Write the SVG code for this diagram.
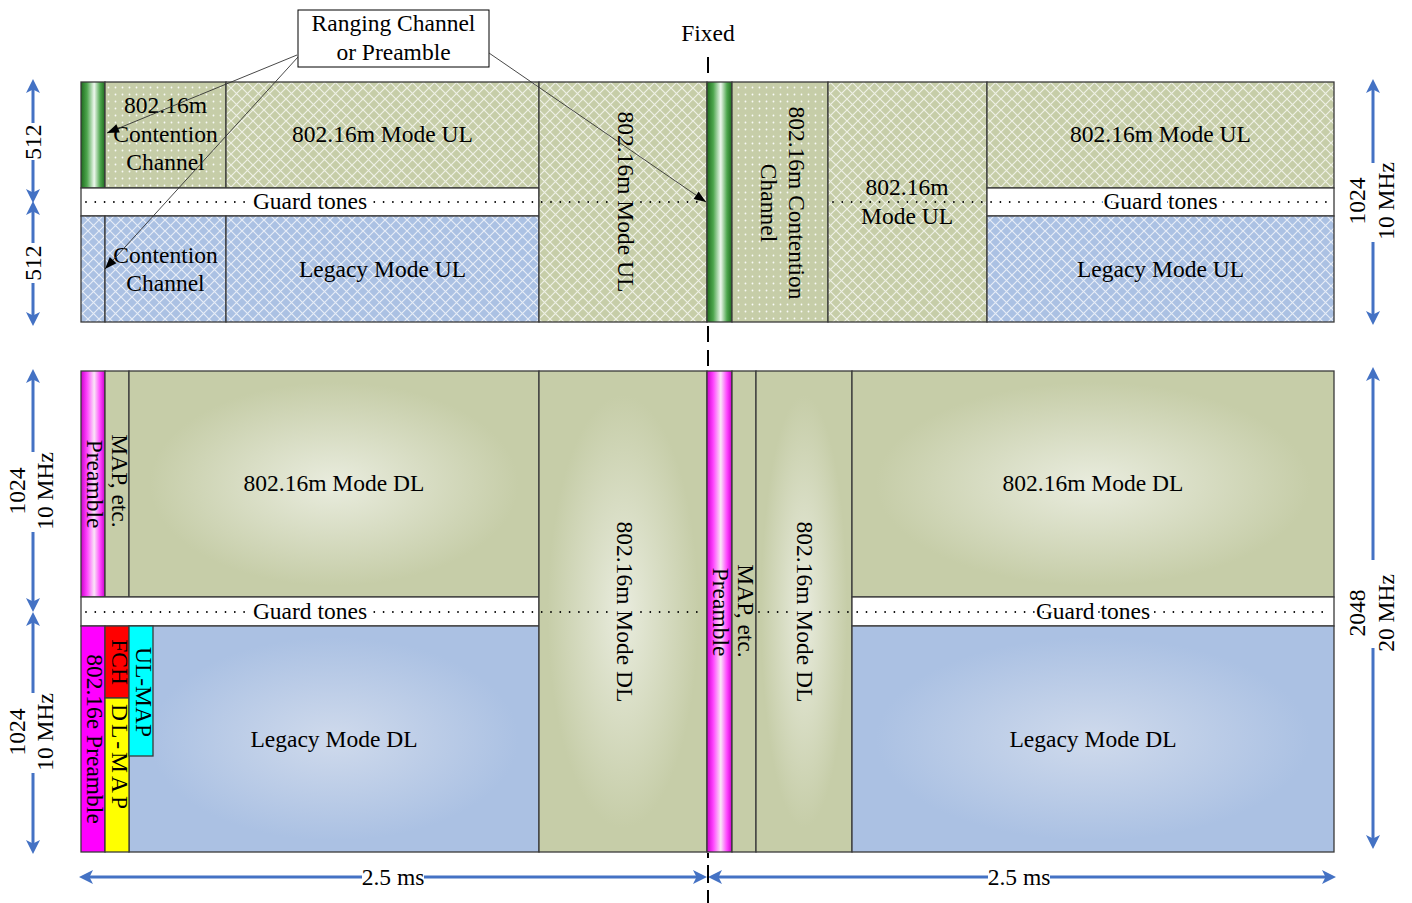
<svg xmlns="http://www.w3.org/2000/svg" width="1412" height="903" viewBox="0 0 1412 903">
<style>
.t{font-family:"Liberation Serif","Times New Roman",serif;font-size:23.5px;fill:#000;text-anchor:middle}
.g{stroke:#fff;stroke-width:4px;paint-order:stroke;stroke-linejoin:round}
.b{stroke:#3a3a3a;stroke-width:1.3}
.dot{stroke:#000;stroke-width:1.8;stroke-linecap:round;stroke-dasharray:0 9.3;fill:none}
.blue{stroke:#4472c4;stroke-width:3;fill:none;marker-start:url(#bh);marker-end:url(#bh)}
.conn{stroke:#333;stroke-width:0.9;fill:none;marker-end:url(#ah)}
</style>
<defs>
<pattern id="hatchG" width="11" height="11" patternUnits="userSpaceOnUse">
<rect width="11" height="11" fill="#c6cda8"/>
<path d="M0,0 L11,11 M11,0 L0,11" stroke="#fff" stroke-opacity="0.7" stroke-width="1.2"/>
</pattern>
<pattern id="hatchB" width="11" height="11" patternUnits="userSpaceOnUse">
<rect width="11" height="11" fill="#abc1e3"/>
<path d="M0,0 L11,11 M11,0 L0,11" stroke="#fff" stroke-opacity="0.7" stroke-width="1.2"/>
</pattern>
<pattern id="dotG" width="7" height="7" patternUnits="userSpaceOnUse">
<rect width="7" height="7" fill="#c6cda8"/>
<circle cx="3.5" cy="3.5" r="0.9" fill="#fff" fill-opacity="0.9"/>
</pattern>
<linearGradient id="greenBar" x1="0" x2="1" y1="0" y2="0">
<stop offset="0" stop-color="#1e6b1e"/><stop offset="0.25" stop-color="#4da64d"/><stop offset="0.55" stop-color="#eef8ee"/><stop offset="0.8" stop-color="#4da64d"/><stop offset="1" stop-color="#1e6b1e"/>
</linearGradient>
<linearGradient id="magBar" x1="0" x2="1" y1="0" y2="0">
<stop offset="0" stop-color="#cc00cc"/><stop offset="0.25" stop-color="#ff44ff"/><stop offset="0.55" stop-color="#f9e6f6"/><stop offset="0.8" stop-color="#ff44ff"/><stop offset="1" stop-color="#cc00cc"/>
</linearGradient>
<radialGradient id="radG"><stop offset="0" stop-color="#e9ecde"/><stop offset="0.9" stop-color="#c6cda8"/></radialGradient>
<radialGradient id="radB"><stop offset="0" stop-color="#cfdaec"/><stop offset="0.9" stop-color="#abc1e3"/></radialGradient>
<marker id="bh" markerUnits="userSpaceOnUse" markerWidth="22" markerHeight="18" refX="10" refY="9" orient="auto-start-reverse" overflow="visible">
<path d="M16,9 L2,2 L5.5,9 L2,16 Z" fill="#4472c4"/>
</marker>
<marker id="ah" markerUnits="userSpaceOnUse" markerWidth="14" markerHeight="10" refX="12" refY="4.5" orient="auto" overflow="visible">
<path d="M0,0 L12,4.5 L0,9 Z" fill="#000"/>
</marker>
</defs>
<rect width="1412" height="903" fill="#fff"/>

<!-- Top (UL) panel -->
<g id="ul-ranging-left"><rect class="b" x="81" y="82" width="24" height="106" fill="url(#greenBar)"/></g>
<g id="ul-contention-m"><rect class="b" x="105" y="82" width="121" height="106" fill="url(#dotG)"/>
<text class="t" x="165.5" y="113">802.16m</text><text class="t" x="165.5" y="142">Contention</text><text class="t" x="165.5" y="170">Channel</text></g>
<g id="ul-mode-m-left"><rect class="b" x="226" y="82" width="313" height="106" fill="url(#hatchG)"/>
<text class="t" x="382.5" y="142">802.16m Mode UL</text></g>
<g id="guard-ul-left"><rect class="b" x="81" y="188" width="458" height="28" fill="#fff"/></g>
<g id="ul-legacy-edge"><rect class="b" x="81" y="216" width="24" height="106" fill="url(#hatchB)"/></g>
<g id="ul-contention-legacy"><rect class="b" x="105" y="216" width="121" height="106" fill="url(#hatchB)"/>
<text class="t" x="165.5" y="263">Contention</text><text class="t" x="165.5" y="291">Channel</text></g>
<g id="ul-legacy-left"><rect class="b" x="226" y="216" width="313" height="106" fill="url(#hatchB)"/>
<text class="t" x="382.5" y="277">Legacy Mode UL</text></g>
<g id="ul-mode-m-center"><rect class="b" x="539" y="82" width="168" height="240" fill="url(#hatchG)"/>
<text class="t" transform="translate(618,202) rotate(90)">802.16m Mode UL</text></g>
<g id="ul-ranging-center"><rect class="b" x="707" y="82" width="25" height="240" fill="url(#greenBar)"/></g>
<g id="ul-contention-center"><rect class="b" x="732" y="82" width="96" height="240" fill="url(#dotG)"/>
<text class="t" transform="translate(789,203) rotate(90)">802.16m Contention</text>
<text class="t" transform="translate(761,203) rotate(90)">Channel</text></g>
<g id="ul-mode-m-center2"><rect class="b" x="828" y="82" width="159" height="240" fill="url(#hatchG)"/></g>
<g id="ul-mode-m-right"><rect class="b" x="987" y="82" width="347" height="106" fill="url(#hatchG)"/>
<text class="t" x="1160.5" y="142">802.16m Mode UL</text></g>
<g id="guard-ul-right"><rect class="b" x="987" y="188" width="347" height="28" fill="#fff"/></g>
<g id="ul-legacy-right"><rect class="b" x="987" y="216" width="347" height="106" fill="url(#hatchB)"/>
<text class="t" x="1160.5" y="277">Legacy Mode UL</text></g>

<!-- Bottom (DL) panel -->
<g id="dl-preamble-left"><rect class="b" x="81" y="371" width="24" height="226" fill="url(#magBar)"/></g>
<g id="dl-map-left"><rect class="b" x="105" y="371" width="24" height="226" fill="#c6cda8"/></g>
<g id="dl-mode-m-left"><rect class="b" x="129" y="371" width="410" height="226" fill="url(#radG)"/>
<text class="t" x="334" y="491">802.16m Mode DL</text></g>
<g id="guard-dl-left"><rect class="b" x="81" y="597" width="458" height="29" fill="#fff"/></g>
<g id="dl-legacy-left"><rect class="b" x="129" y="626" width="410" height="226" fill="url(#radB)"/>
<text class="t" x="334" y="747">Legacy Mode DL</text></g>
<g id="dl-16e-preamble"><rect class="b" x="81" y="626" width="24" height="226" fill="#ff00ff"/></g>
<g id="dl-fch"><rect class="b" x="105" y="626" width="24" height="72" fill="#ff0000"/></g>
<g id="dl-dlmap"><rect class="b" x="105" y="698" width="24" height="154" fill="#ffff00"/></g>
<g id="dl-ulmap"><rect class="b" x="129" y="626" width="24" height="130" fill="#00ffff"/></g>
<g id="dl-mode-m-center"><rect class="b" x="539" y="371" width="168" height="481" fill="url(#radG)"/>
<text class="t" transform="translate(617,612) rotate(90)">802.16m Mode DL</text></g>
<g id="dl-preamble-center"><rect class="b" x="707" y="371" width="25" height="481" fill="url(#magBar)"/></g>
<g id="dl-map-center"><rect class="b" x="732" y="371" width="24" height="481" fill="#c6cda8"/></g>
<g id="dl-mode-m-center2"><rect class="b" x="756" y="371" width="96" height="481" fill="url(#radG)"/>
<text class="t" transform="translate(797,612) rotate(90)">802.16m Mode DL</text></g>
<g id="dl-mode-m-right"><rect class="b" x="852" y="371" width="482" height="226" fill="url(#radG)"/>
<text class="t" x="1093" y="491">802.16m Mode DL</text></g>
<g id="guard-dl-right"><rect class="b" x="852" y="597" width="482" height="29" fill="#fff"/></g>
<g id="dl-legacy-right"><rect class="b" x="852" y="626" width="482" height="226" fill="url(#radB)"/>
<text class="t" x="1093" y="747">Legacy Mode DL</text></g>

<!-- dotted guard lines -->
<g id="guard-dots">
<path class="dot" d="M86,202 H611 M641,202 H705 M833,202 H1331"/>
<path class="dot" d="M86,612 H612 M641,612 H705 M759,612 H793 M820,612 H1331"/>
</g>

<!-- labels over guard lines and narrow columns -->
<g id="labels">
<text class="t g" x="310" y="209">Guard tones</text>
<text class="t g" x="1160.5" y="209">Guard tones</text>
<text class="t g" x="310" y="619">Guard tones</text>
<text class="t g" x="1093" y="619">Guard tones</text>
<text class="t" x="907" y="195">802.16m</text>
<text class="t" x="907" y="224">Mode UL</text>
<text class="t" transform="translate(87,484) rotate(90)">Preamble</text>
<text class="t" transform="translate(112,481) rotate(90)">MAP, etc.</text>
<text class="t" transform="translate(87,739) rotate(90)">802.16e Preamble</text>
<text class="t" transform="translate(112,662) rotate(90)">FCH</text>
<text class="t" transform="translate(112,758) rotate(90)" letter-spacing="3">DL-MAP</text>
<text class="t" transform="translate(136,692) rotate(90)">UL-MAP</text>
<text class="t" transform="translate(738,611) rotate(90)">MAP, etc.</text>
<text class="t" transform="translate(713,612) rotate(90)">Preamble</text>
</g>

<!-- Ranging callout -->
<g id="ranging-callout">
<rect x="298" y="10" width="191" height="57" fill="#fff" stroke="#000" stroke-width="1"/>
<text class="t" x="393.5" y="31">Ranging Channel</text>
<text class="t" x="393.5" y="60">or Preamble</text>
</g>

<g id="fixed-label"><text class="t" x="708" y="41">Fixed</text></g>

<!-- connectors -->
<g id="connectors">
<path class="conn" d="M297,55 L107,133"/>
<path class="conn" d="M298,57 L105,269"/>
<path class="conn" d="M489,53 L706,202"/>
</g>

<!-- dimension arrows -->
<g id="dimensions">
<path class="blue" d="M33,85 V123 M33,160 V197"/>
<path class="blue" d="M33,207 V243 M33,283 V320"/>
<path class="blue" d="M33,375 V452 M33,532 V606"/>
<path class="blue" d="M33,618 V693 M33,773 V848"/>
<path class="blue" d="M1373,85 V163 M1373,242 V319"/>
<path class="blue" d="M1373,373 V560 M1373,648 V843"/>
<path class="blue" d="M85,877 H362 M424,877 H701"/>
<path class="blue" d="M714,877 H988 M1050,877 H1330"/>
<text class="t" transform="translate(41,142) rotate(-90)">512</text>
<text class="t" transform="translate(41,263) rotate(-90)">512</text>
<text class="t" transform="translate(25,491) rotate(-90)">1024</text>
<text class="t" transform="translate(53,491) rotate(-90)">10 MHz</text>
<text class="t" transform="translate(25,732) rotate(-90)">1024</text>
<text class="t" transform="translate(53,732) rotate(-90)">10 MHz</text>
<text class="t" transform="translate(1365,201) rotate(-90)">1024</text>
<text class="t" transform="translate(1394,201) rotate(-90)">10 MHz</text>
<text class="t" transform="translate(1365,613) rotate(-90)">2048</text>
<text class="t" transform="translate(1394,613) rotate(-90)">20 MHz</text>
<text class="t" x="393" y="885">2.5 ms</text>
<text class="t" x="1019" y="885">2.5 ms</text>
</g>

<g id="fixed-line"><path d="M708,57 V73 M708,326 V342 M708,350 V366 M708,853 V858 M708,865 V883 M708,890 V903" stroke="#000" stroke-width="2" fill="none"/></g>
</svg>
